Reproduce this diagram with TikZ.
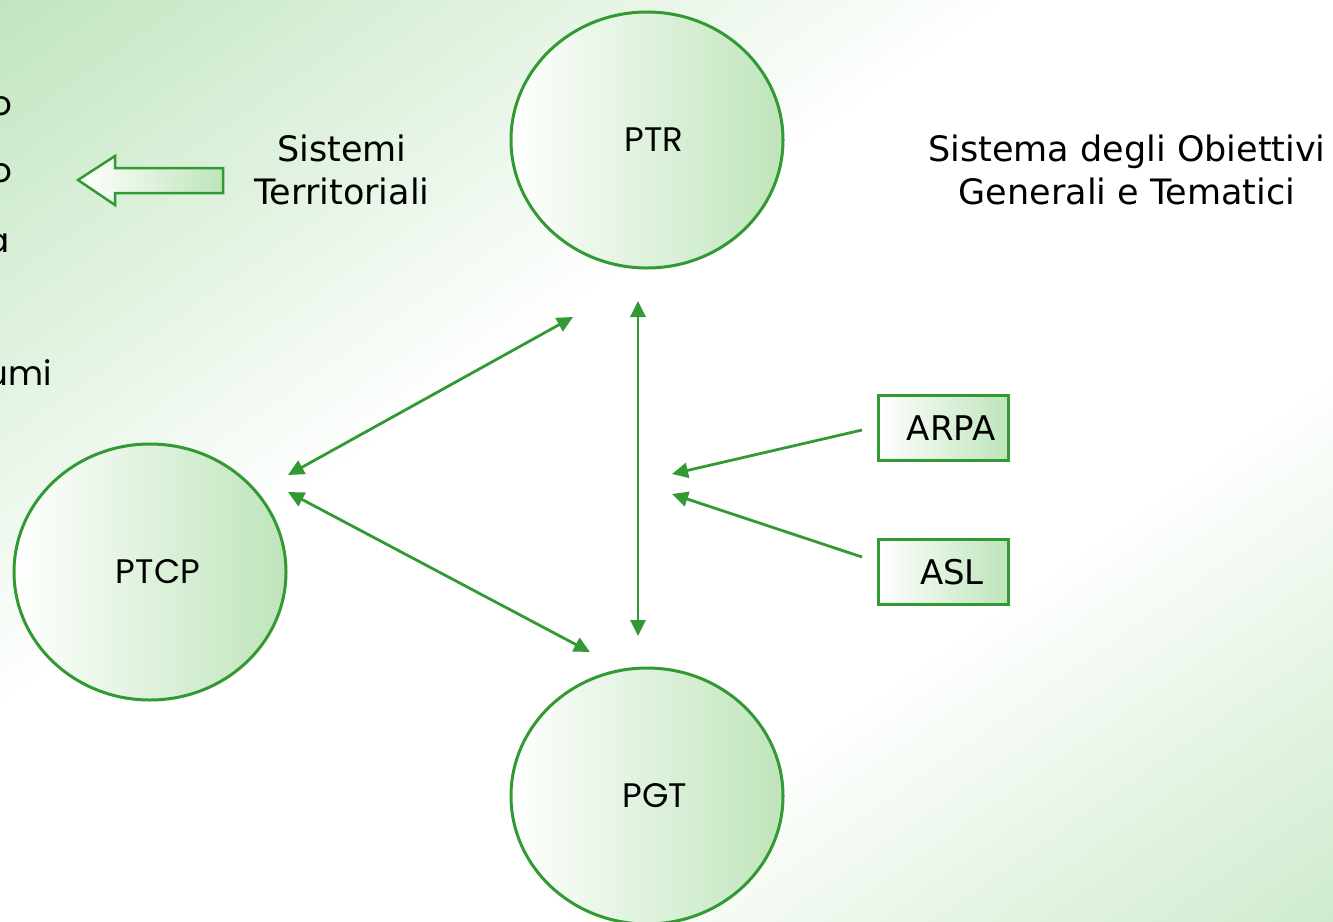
\documentclass[tikz,border=0pt]{standalone}
\usepackage{fontspec}
\setmainfont{Poppins}
\newfontfamily\comicfont{DejaVu Sans}
\usetikzlibrary{shapes.geometric,arrows.meta}
\definecolor{edge}{RGB}{51,153,51}
\definecolor{bggreen}{RGB}{190,228,188}
\definecolor{nodegreen}{RGB}{184,226,180}
\pgfdeclareverticalshading{bgshade}{100bp}{color(0bp)=(bggreen); color(8bp)=(bggreen); color(36bp)=(white); color(58bp)=(white); color(86bp)=(bggreen); color(100bp)=(bggreen)}
\pgfdeclarehorizontalshading{nodeshade}{100bp}{color(0bp)=(white); color(25bp)=(white); color(80bp)=(nodegreen); color(100bp)=(nodegreen)}
\tikzset{
  plan/.style={ellipse, draw=edge, line width=3pt, shading=nodeshade,
    minimum width=272pt, minimum height=256pt, inner sep=0pt},
  plantext/.style={font=\fontsize{34}{40}\selectfont, text=black},
  agency/.style={rectangle, draw=edge, line width=3pt, shading=nodeshade,
    minimum width=130pt, minimum height=65pt, inner sep=0pt},
  agencytext/.style={font=\comicfont\fontsize{34}{38}\selectfont, text=black},
  link/.style={draw=edge, line width=2.8pt, -{Triangle[length=16pt,width=15pt]}},
  twoway/.style={draw=edge, line width=2.8pt, {Triangle[length=16pt,width=15pt]}-{Triangle[length=16pt,width=15pt]}},
  caption/.style={font=\comicfont\fontsize{35}{43}\selectfont, align=center, text=black},
  fragment/.style={font=\fontsize{34}{40}\selectfont, anchor=base east, inner sep=0pt, text=black},
}
\begin{document}
\begin{tikzpicture}[x=1pt,y=-1pt]
\useasboundingbox (0,0) rectangle (1333,921);
\shade[shading=bgshade, shading angle=35] (0,0) rectangle (1333,921);
\begin{scope}
\clip (0,0) rectangle (1333,921);
% cut-off text at the left edge
\node[fragment] (f1) at (12,115) {o};
\node[fragment] (f2) at (12,182) {o};
\node[fragment] (f3) at (10,252) {a};
\node[fragment] (f4) at (52,385) {umi};
% plans
\node[plan, label={[plantext, xshift=7pt]center:PTR}] (ptr) at (647,140) {};
\node[plan, label={[plantext, xshift=8pt]center:PTCP}] (ptcp) at (150,572) {};
\node[plan, label={[plantext, xshift=8pt]center:PGT}] (pgt) at (647,796) {};
\end{scope}
% agencies
\node[agency, label={[agencytext, xshift=8pt]center:ARPA}] (arpa) at (943,428) {};
\node[agency, label={[agencytext, xshift=9pt]center:ASL}] (asl) at (943,572) {};
% captions
\node[caption] (sist) at (342,170) {Sistemi\\Territoriali};
\node[caption] (obj) at (1127,170) {Sistema degli Obiettivi\\Generali e Tematici};
% hollow arrow
\shade[shading=nodeshade, draw=edge, line width=2.5pt]
  (78,180) -- (115,156) -- (115,168) -- (223,168) -- (223,193) -- (115,193) -- (115,205) -- cycle;
% connector end points
\coordinate (ptrA) at (573,317);
\coordinate (ptcpA) at (288,475);
\coordinate (ptcpB) at (288,492);
\coordinate (pgtA) at (590,652);
\coordinate (ptrB) at (638,301);
\coordinate (pgtB) at (638,636);
\coordinate (arpaA) at (862,430);
\coordinate (aslA) at (862,557);
\coordinate (midA) at (672,474);
\coordinate (midB) at (672,494);
\draw[twoway] (ptcpA) -- (ptrA);
\draw[twoway] (ptcpB) -- (pgtA);
\draw[twoway] (ptrB) -- (pgtB);
\draw[link] (arpaA) -- (midA);
\draw[link] (aslA) -- (midB);
\end{tikzpicture}
\end{document}
